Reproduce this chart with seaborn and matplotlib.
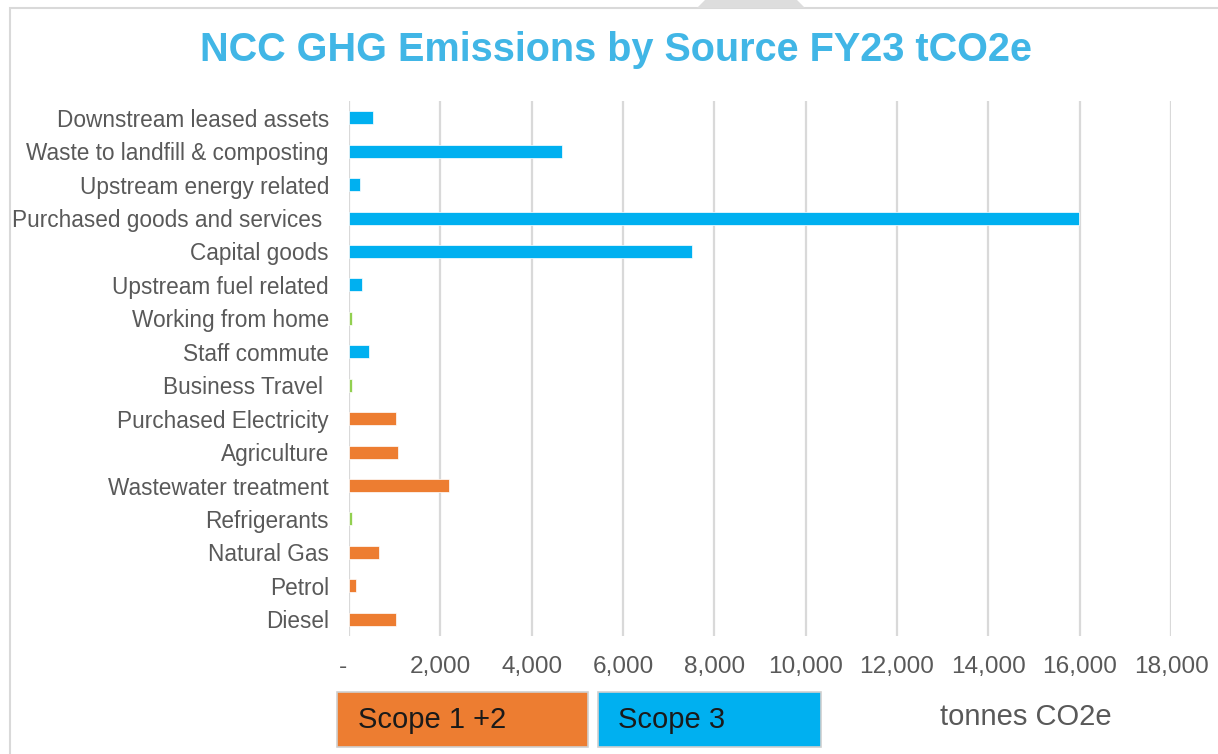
import matplotlib
matplotlib.use("Agg")
import matplotlib.pyplot as plt
from matplotlib.patches import Rectangle, Polygon
import matplotlib.transforms as mtransforms
import seaborn as sns
import pandas as pd

# ---- data (top to bottom) ----
categories = [
    "Downstream leased assets",
    "Waste to landfill & composting",
    "Upstream energy related",
    "Purchased goods and services ",
    "Capital goods",
    "Upstream fuel related",
    "Working from home",
    "Staff commute",
    "Business Travel ",
    "Purchased Electricity",
    "Agriculture",
    "Wastewater treatment",
    "Refrigerants",
    "Natural Gas",
    "Petrol",
    "Diesel",
]
values = [520, 4670, 240, 15980, 7510, 290, 70, 430, 70, 1030, 1075, 2190, 70, 660, 150, 1030]
scopes = ["Scope 3", "Scope 3", "Scope 3", "Scope 3", "Scope 3", "Scope 3", "Other",
          "Scope 3", "Other", "Scope 1 +2", "Scope 1 +2", "Scope 1 +2", "Other",
          "Scope 1 +2", "Scope 1 +2", "Scope 1 +2"]
x_ticks = [0, 2000, 4000, 6000, 8000, 10000, 12000, 14000, 16000, 18000]
x_tick_labels = ["-", "2,000", "4,000", "6,000", "8,000", "10,000", "12,000",
                 "14,000", "16,000", "18,000"]
legend_labels = ["Scope 1 +2", "Scope 3"]
title = "NCC GHG Emissions by Source FY23 tCO2e"
x_unit = "tonnes CO2e"

palette = {"Scope 1 +2": "#ED7D31", "Scope 3": "#00B0F0", "Other": "#92D050"}
grey_text = "#595959"
grid_col = "#D9D9D9"

sns.set_theme(style="white")
plt.rcParams["font.family"] = ["Liberation Sans", "DejaVu Sans"]

W, H = 1218, 754
fig = plt.figure(figsize=(W / 100, H / 100), dpi=100)
fig.patch.set_facecolor("white")

# frame and top tab
fig.add_artist(Rectangle((10 / W, -0.1), 1.2, (H - 8) / H + 0.1, transform=fig.transFigure,
                         facecolor="none", edgecolor="#D9D9D9", linewidth=1.5))
fig.add_artist(Polygon([(697 / W, 1 - 8 / H), (805 / W, 1 - 8 / H), (797 / W, 1.0), (705 / W, 1.0)],
                       closed=True, transform=fig.transFigure, facecolor="#DDDDDD", edgecolor="none"))

left, right, top, bottom = 349, 1171, 101, 636
ax = fig.add_axes([left / W, 1 - bottom / H, (right - left) / W, (bottom - top) / H])

df = pd.DataFrame({"category": categories, "value": values, "scope": scopes})
sns.barplot(data=df, x="value", y="category", hue="scope", palette=palette,
            dodge=False, width=0.39, legend=False, ax=ax, order=categories,
            saturation=1, edgecolor="#FFFFFF", linewidth=0.5)

ax.set_xlim(0, 18000)
ax.set_ylim(len(categories) - 0.5, -0.5)
ax.set_xticks(x_ticks)
ax.set_xticklabels(x_tick_labels)
ax.set_xlabel("")
ax.set_ylabel("")
for s in ax.spines.values():
    s.set_visible(False)
ax.grid(axis="x", color=grid_col, linewidth=1.6)
ax.grid(axis="y", visible=False)
ax.set_axisbelow(True)
ax.tick_params(axis="y", length=0, pad=14.4, labelsize=16.3, labelcolor=grey_text)
ax.tick_params(axis="x", length=0, pad=14.4, labelsize=17.6, labelcolor=grey_text)

# shift the "-" zero label slightly left, like the reference
lbl0 = ax.get_xticklabels()[0]
lbl0.set_transform(lbl0.get_transform() + mtransforms.ScaledTranslation(-6 / 100, 0, fig.dpi_scale_trans))

# title
fig.text(616.5 / W, 1 - 50 / H, title, ha="center", va="center", fontsize=28.5,
         fontweight="bold", color="#41B6E6")

# legend boxes
boxes = [(337, 588, palette["Scope 1 +2"], legend_labels[0], 358),
         (598, 821, palette["Scope 3"], legend_labels[1], 618)]
for x0, x1, col, lab, tx in boxes:
    fig.add_artist(Rectangle((x0 / W, 1 - 747 / H), (x1 - x0) / W, 55 / H,
                             transform=fig.transFigure, facecolor=col,
                             edgecolor="#D0D0D0", linewidth=1.2))
    fig.text(tx / W, 1 - 720 / H, lab, ha="left", va="center", fontsize=21, color="#1A1A1A")

fig.text(940 / W, 1 - 717 / H, x_unit, ha="left", va="center", fontsize=21, color=grey_text)

fig.savefig("out.png", dpi=100)
